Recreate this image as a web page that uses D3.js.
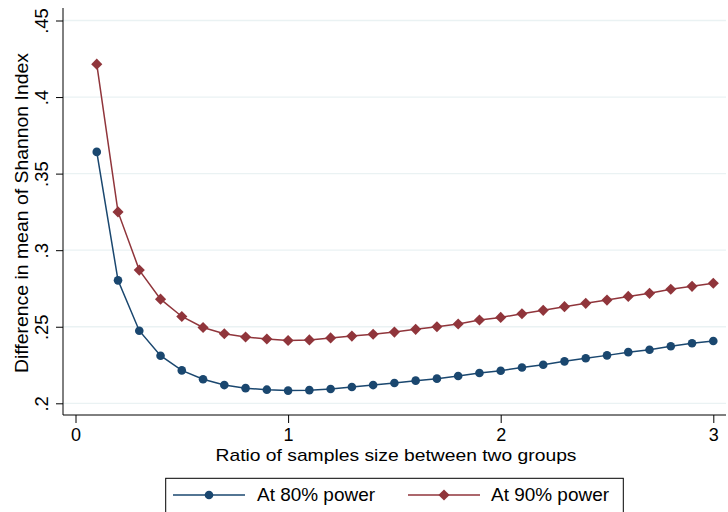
<!DOCTYPE html>
<html><head><meta charset="utf-8">
<script src="https://cdn.jsdelivr.net/npm/d3@7"></script>
<style>body{margin:0;background:#fff}svg{display:block}text{font-family:"Liberation Sans",Arial,Helvetica,sans-serif;fill:#000}</style>
</head><body><svg id="c" width="728" height="512"></svg>
<script>
const ratios = d3.range(1, 31).map(i => i / 10);
const power80 = [0.3642,0.2803,0.2474,0.2311,0.2215,0.2157,0.2119,0.2099,0.2089,0.2083,0.2086,0.2093,0.2106,0.2119,0.2133,0.2148,0.2161,0.2178,0.2198,0.2213,0.2234,0.2252,0.2274,0.2294,0.2313,0.2334,0.2350,0.2373,0.2392,0.2407];
const power90 = [0.4215,0.3250,0.2870,0.2680,0.2567,0.2495,0.2454,0.2433,0.2420,0.2410,0.2414,0.2427,0.2439,0.2451,0.2465,0.2483,0.2500,0.2518,0.2544,0.2561,0.2585,0.2607,0.2631,0.2653,0.2674,0.2698,0.2718,0.2745,0.2764,0.2784];
const xTicks = [0, 1, 2, 3];
const yTicks = [0.2, 0.25, 0.3, 0.35, 0.4, 0.45];
const yTickLabels = [".2", ".25", ".3", ".35", ".4", ".45"];
const seriesNames = ["At 80% power", "At 90% power"];
const colors = ["#1a476f", "#90353b"];

const svg = d3.select("#c");
const pLeft = 63, pRight = 726, pTop = 8, pBottom = 415;
const x = d3.scaleLinear().domain([0, 3]).range([75.5, 713.3]);
const y = d3.scaleLinear().domain([0.2, 0.45]).range([403.3, 20.5]);

// gridlines
svg.append("g").selectAll("line").data(yTicks).join("line")
  .attr("x1", pLeft).attr("x2", pRight)
  .attr("y1", d => y(d)).attr("y2", d => y(d))
  .attr("stroke", "#eaf2f3").attr("stroke-width", 1.3);

// y axis
const ya = svg.append("g").attr("transform", `translate(${pLeft},0)`)
  .call(d3.axisLeft(y).tickValues(yTicks).tickSize(7).tickFormat((d, i) => yTickLabels[i]));
ya.select(".domain").remove();
ya.selectAll(".tick line").attr("stroke", "#000");
ya.selectAll(".tick text").attr("font-size", 18.5).attr("text-anchor", "middle")
  .attr("transform", "translate(-15,0) rotate(-90)").attr("x", 0).attr("y", 0).attr("dy", "0");
svg.append("line").attr("x1", pLeft).attr("x2", pLeft).attr("y1", pTop).attr("y2", pBottom).attr("stroke", "#000");

// x axis
const xa = svg.append("g").attr("transform", `translate(0,${pBottom})`)
  .call(d3.axisBottom(x).tickValues(xTicks).tickSize(8).tickFormat(d3.format("d")));
xa.select(".domain").remove();
xa.selectAll(".tick line").attr("stroke", "#000");
xa.selectAll(".tick text").attr("font-size", 18).attr("y", 13).attr("dy", "0.71em");
svg.append("line").attr("x1", pLeft).attr("x2", pRight).attr("y1", pBottom).attr("y2", pBottom).attr("stroke", "#000");

// titles
svg.append("text").attr("x", 396).attr("y", 461).attr("text-anchor", "middle").attr("font-size", 17)
  .attr("textLength", 361).attr("lengthAdjust", "spacingAndGlyphs")
  .text("Ratio of samples size between two groups");
svg.append("text").attr("transform", "translate(28,213) rotate(-90)").attr("text-anchor", "middle").attr("font-size", 18.5)
  .attr("textLength", 320).attr("lengthAdjust", "spacingAndGlyphs")
  .text("Difference in mean of Shannon Index");

// series
const line = d3.line().x((d, i) => x(ratios[i])).y(d => y(d));
const data = [power80, power90];
data.forEach((vals, s) => {
  svg.append("path").datum(vals).attr("d", line).attr("fill", "none").attr("stroke", colors[s]).attr("stroke-width", 1.5);
  const g = svg.append("g");
  if (s === 0) {
    g.selectAll("circle").data(vals).join("circle")
      .attr("cx", (d, i) => x(ratios[i])).attr("cy", d => y(d)).attr("r", 4.3).attr("fill", colors[s]);
  } else {
    g.selectAll("path").data(vals).join("path")
      .attr("d", d3.symbol().type(d3.symbolSquare).size(62))
      .attr("transform", (d, i) => `translate(${x(ratios[i])},${y(d)}) rotate(45)`).attr("fill", colors[s]);
  }
});

// legend
svg.append("rect").attr("x", 165.7).attr("y", 478.3).attr("width", 457.6).attr("height", 45)
  .attr("fill", "#fff").attr("stroke", "#000").attr("stroke-width", 1);
const lg = [{x0: 173, x1: 245, tx: 257}, {x0: 408, x1: 480, tx: 491}];
lg.forEach((L, s) => {
  const ly = 495;
  svg.append("line").attr("x1", L.x0).attr("x2", L.x1).attr("y1", ly).attr("y2", ly).attr("stroke", colors[s]).attr("stroke-width", 1.5);
  if (s === 0) svg.append("circle").attr("cx", (L.x0 + L.x1) / 2).attr("cy", ly).attr("r", 4.3).attr("fill", colors[s]);
  else svg.append("path").attr("d", d3.symbol().type(d3.symbolSquare).size(62)).attr("transform", `translate(${(L.x0 + L.x1) / 2},${ly}) rotate(45)`).attr("fill", colors[s]);
  svg.append("text").attr("x", L.tx).attr("y", ly).attr("dy", "0.35em").attr("font-size", 18.5)
    .attr("textLength", 118).attr("lengthAdjust", "spacingAndGlyphs").text(seriesNames[s]);
});
</script></body></html>
